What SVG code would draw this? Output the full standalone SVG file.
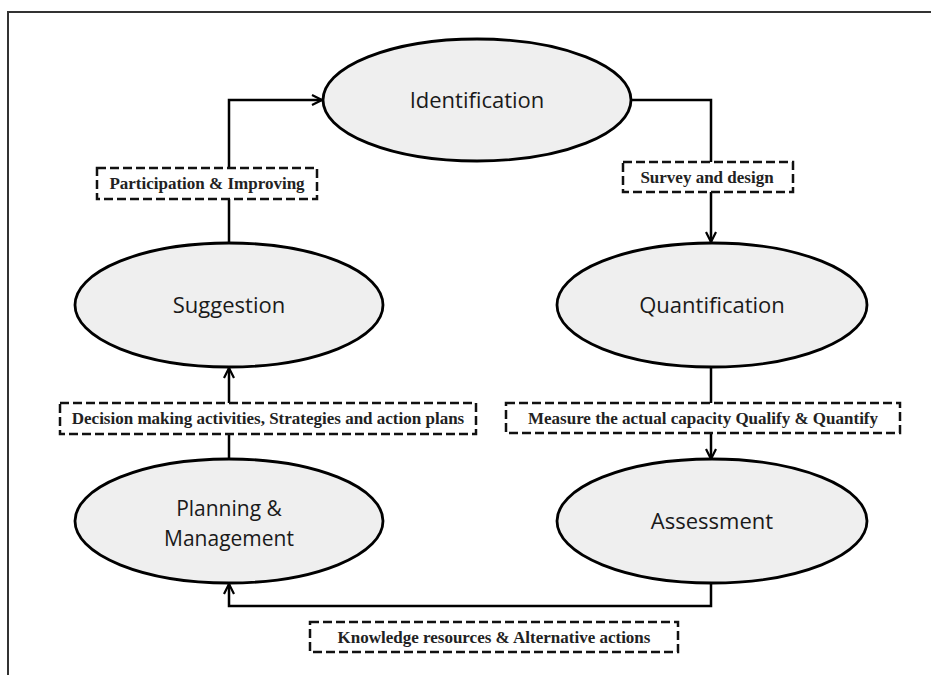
<svg xmlns="http://www.w3.org/2000/svg" width="931" height="675" viewBox="0 0 931 675">
<defs>
<style>
.node ellipse{fill:#efefef;stroke:#000;stroke-width:2.8}
.node text{font-family:"Open Sans","Noto Sans",sans-serif;font-size:22px;fill:#1a1a1a;text-anchor:middle}
.lbl rect{fill:#fff;stroke:#111;stroke-width:2.5;stroke-dasharray:9 4}
.lbl text{font-family:"Liberation Serif","Times New Roman",serif;font-weight:bold;font-size:17px;fill:#222;text-anchor:middle}
.conn path{fill:none;stroke:#000;stroke-width:2.5}
</style>
<marker id="arr" viewBox="0 0 12 12" refX="11" refY="6" markerWidth="12" markerHeight="12" markerUnits="userSpaceOnUse" orient="auto">
<path d="M1,1 L11,6 L1,11" fill="none" stroke="#000" stroke-width="2.2"/>
</marker>
</defs>
<rect width="931" height="675" fill="#fff"/>
<path d="M7,12 H931 M8,12 V675" fill="none" stroke="#333" stroke-width="2"/>
<g class="conn" id="connectors">
<path d="M229,243 V100 H322" marker-end="url(#arr)"/>
<path d="M631,100 H711 V242" marker-end="url(#arr)"/>
<path d="M711,367 V459" marker-end="url(#arr)"/>
<path d="M711,583 V606 H229 V584" marker-end="url(#arr)"/>
<path d="M229,459 V368" marker-end="url(#arr)"/>
</g>
<g class="node" id="identification"><ellipse cx="477" cy="100" rx="154" ry="61"/><text x="477" y="108">Identification</text></g>
<g class="node" id="suggestion"><ellipse cx="229" cy="305" rx="154" ry="62"/><text x="229" y="313">Suggestion</text></g>
<g class="node" id="quantification"><ellipse cx="712" cy="305" rx="155" ry="62"/><text x="712" y="313">Quantification</text></g>
<g class="node" id="planning"><ellipse cx="229" cy="521" rx="154" ry="62"/><text x="229" y="516" style="font-size:21px">Planning &amp;</text><text x="229" y="546" style="font-size:21px">Management</text></g>
<g class="node" id="assessment"><ellipse cx="712" cy="521" rx="155" ry="62"/><text x="712" y="529">Assessment</text></g>
<g class="lbl" id="lbl-participation"><rect x="97" y="168" width="220" height="31"/><text x="207" y="189">Participation &amp; Improving</text></g>
<g class="lbl" id="lbl-survey"><rect x="623" y="162" width="170" height="30"/><text x="707" y="183">Survey and design</text></g>
<g class="lbl" id="lbl-decision"><rect x="60" y="403" width="416" height="31"/><text x="268" y="424">Decision making activities, Strategies and action plans</text></g>
<g class="lbl" id="lbl-measure"><rect x="506" y="403" width="394" height="30"/><text x="703" y="424">Measure the actual capacity Qualify &amp; Quantify</text></g>
<g class="lbl" id="lbl-knowledge"><rect x="310" y="622" width="368" height="30"/><text x="494" y="643">Knowledge resources &amp; Alternative actions</text></g>
</svg>
